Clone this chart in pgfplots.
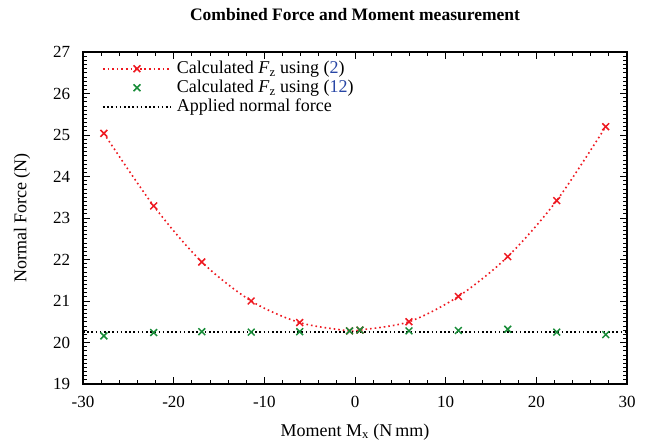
\documentclass[border=0pt]{standalone}
\usepackage{fontspec}
\setmainfont{Liberation Serif}
\usepackage{pgfplots}
\pgfplotsset{compat=1.18}
\definecolor{cred}{RGB}{238,24,32}
\definecolor{cgreen}{RGB}{24,140,56}
\definecolor{cblue}{RGB}{40,70,165}
\pgfplotsset{marklegend/.style={legend image code/.code={\path[draw=none] (0bp,0bp) -- (72bp,0bp);\draw[##1] plot coordinates {(34bp,0bp)};}}}
\begin{document}
\fontsize{17bp}{20bp}\selectfont
\begin{tikzpicture}
\useasboundingbox (-83bp,-60bp) rectangle (566bp,384bp);
\begin{axis}[
  at={(0,0)}, anchor=south west,
  scale only axis, width=544bp, height=332bp,
  xmin=-30, xmax=30, ymin=19, ymax=27,
  xtick={-30,-20,...,30}, ytick={19,20,...,27},
  minor x tick num=4, minor y tick num=9,
  tick align=inside,
  major tick length=7bp, minor tick length=4bp,
  axis line style={line width=1.2bp},
  every tick/.style={black, line width=0.8bp},
  /pgf/number format/assume math mode=true,
  xticklabel style={yshift=-6bp},
  yticklabel style={xshift=-7bp},
  title={Combined Force and Moment measurement},
  title style={font=\fontsize{17.5bp}{20bp}\selectfont\bfseries, at={(axis description cs:0.5,1)}, anchor=base, yshift=26bp},
  xlabel={Moment M\textsubscript{x} (N\,mm)},
  xlabel style={font=\fontsize{18bp}{20bp}\selectfont, at={(axis description cs:0.5,-0.1446)}, anchor=center},
  ylabel={Normal Force (N)},
  ylabel style={font=\fontsize{18bp}{20bp}\selectfont, at={(axis description cs:-0.112,0.5)}, anchor=center},
  legend style={at={(0,1)}, anchor=north west, xshift=16bp, yshift=-5bp,
    draw=none, fill=none, row sep=0bp, font=\fontsize{18bp}{20bp}\selectfont},
  legend cell align=left,
  legend image code/.code={\path[draw=none] (0bp,0bp) -- (72bp,0bp);\draw[mark repeat=2, mark phase=2, #1] plot coordinates {(0bp,0bp) (34bp,0bp) (68bp,0bp)};},
]
\addplot[cred, line width=1.6bp, dash pattern=on 1.6bp off 3.0bp, smooth,
  mark=x, mark size=4.8bp, mark options={solid, line width=1.5bp}]
  coordinates {(-27.7,25.04) (-22.2,23.29) (-16.9,21.94) (-11.45,21.00) (-6.1,20.48) (-0.6,20.28) (0.55,20.30) (5.95,20.50) (11.4,21.11) (16.85,22.07) (22.25,23.42) (27.65,25.20)};
\addlegendentry{Calculated \textit{F}\textsubscript{z} using (\textcolor{cblue}{2})}
\addplot[cgreen, only marks, mark=x, mark size=4.8bp, mark options={line width=1.5bp}, marklegend]
  coordinates {(-27.7,20.16) (-22.2,20.24) (-16.9,20.26) (-11.45,20.25) (-6.1,20.26) (-0.6,20.28) (0.55,20.30) (5.95,20.28) (11.4,20.29) (16.85,20.32) (22.25,20.25) (27.65,20.19)};
\addlegendentry{Calculated \textit{F}\textsubscript{z} using (\textcolor{cblue}{12})}
\addplot[black, line width=1.6bp, dash pattern=on 1.6bp off 2.6bp]
  coordinates {(-30,20.26) (30,20.26)};
\addlegendentry{Applied normal force}
\end{axis}
\end{tikzpicture}
\end{document}
